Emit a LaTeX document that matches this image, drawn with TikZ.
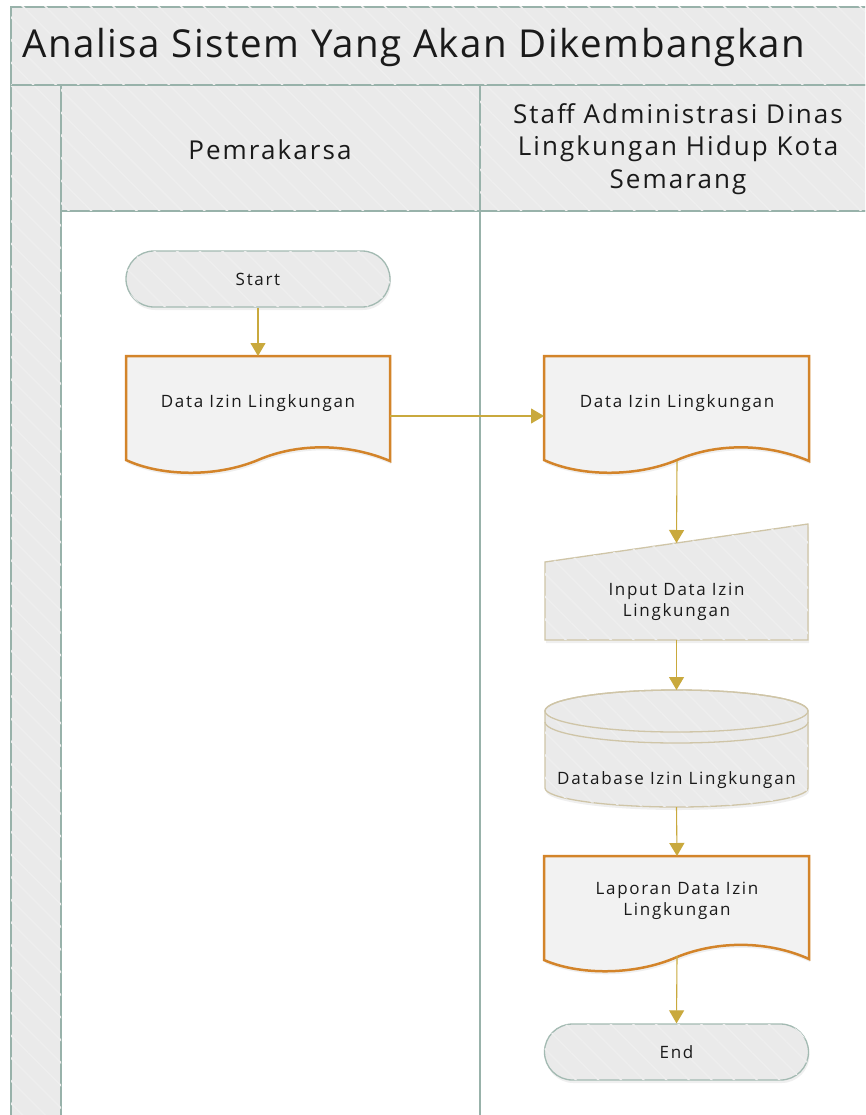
\documentclass[tikz,border=0pt]{standalone}
\usepackage{fontspec}
\setmainfont{Open Sans}
\usetikzlibrary{arrows.meta,patterns.meta,shadows}

\definecolor{frameline}{HTML}{98B2AA}
\definecolor{bandfill}{HTML}{EAEAEA}
\definecolor{bandstripe}{HTML}{EEEEEE}
\definecolor{docline}{HTML}{D3842A}
\definecolor{docfill}{HTML}{F2F2F2}
\definecolor{ioline}{HTML}{CFC5A7}
\definecolor{flowline}{HTML}{C9A93D}
\definecolor{termline}{HTML}{A3BAB2}
\definecolor{ink}{HTML}{1A1A1A}

\newcommand{\shapefont}{\fontsize{17}{21}\selectfont\addfontfeature{LetterSpace=10}}

\tikzset{
  band/.style={draw=frameline, line width=1.6pt, fill=bandfill,
    postaction={pattern={Lines[angle=-45,distance=16pt,line width=1.6pt]}, pattern color=bandstripe}},
  lanebody/.style={draw=frameline, line width=1.6pt, fill=white},
  hatched/.style={fill=bandfill,
    postaction={pattern={Lines[angle=-45,distance=16pt,line width=1.6pt]}, pattern color=bandstripe}},
  softshadow/.style={drop shadow={opacity=0.12, shadow xshift=1pt, shadow yshift=-3pt}},
  docshape/.style={draw=docline, line width=2.5pt, fill=docfill, line join=miter, softshadow},
  ioshape/.style={draw=ioline, line width=1.3pt, hatched, softshadow},
  terminal/.style={draw=termline, line width=1.3pt, hatched, rounded corners=28pt,
    minimum width=264pt, minimum height=56pt, inner sep=0pt, softshadow,
    font=\shapefont, text=ink},
  label/.style={inner sep=0pt, align=center, text=ink, font=\shapefont},
  flow/.style={draw=flowline, line width=1.1pt, -{Triangle[width=15pt,length=13pt]}},
}

\begin{document}
\begin{tikzpicture}[x=1pt,y=-1pt]
\useasboundingbox (0,0) rectangle (865,1115);
\clip (0,0) rectangle (865,1115);

% pool frame: title band, side strip, lane headers and lane bodies
\draw[lanebody] (61,211) rectangle (480,1140);
\draw[lanebody] (480,211) rectangle (890,1140);
\draw[band] (11,85) rectangle (61,1140);
\draw[band] (61,85) rectangle (480,211);
\draw[band] (480,85) rectangle (890,211);
\draw[band] (11,7) rectangle (890,85);

\node[anchor=base west, inner sep=0pt, text=ink,
  font=\fontsize{38.5}{44}\selectfont\addfontfeature{LetterSpace=4}]
  (title) at (22,58) {Analisa Sistem Yang Akan Dikembangkan};
\node[inner sep=0pt, text=ink, font=\fontsize{26}{32}\selectfont\addfontfeature{LetterSpace=8}]
  (lane1) at (270,150) {Pemrakarsa};
\node[inner sep=0pt, align=center, text=ink,
  font=\fontsize{26}{32.5}\selectfont\addfontfeature{LetterSpace=8}]
  (lane2) at (678,149) {Staff Administrasi Dinas\\Lingkungan Hidup Kota\\Semarang};

% terminals
\node[terminal] (start) at (258,279) {Start};
\node[terminal] (end) at (676.5,1052) {End};

% documents
\begin{scope}[shift={(126,356)}]
  \draw[docshape] (0,0) -- (264,0) -- (264,105)
    .. controls (224,88) and (174,86) .. (132,104)
    .. controls (89,122) and (34,120) .. (0,104) -- cycle;
  \node[label] (doc1) at (132,47) {Data Izin Lingkungan};
  \coordinate (doc1top) at (132,0);
  \coordinate (doc1right) at (264,60);
\end{scope}

\begin{scope}[shift={(544,356)}]
  \draw[docshape] (0,0) -- (265,0) -- (265,105)
    .. controls (225,88) and (175,86) .. (133,104)
    .. controls (90,122) and (34,120) .. (0,104) -- cycle;
  \node[label] (doc2) at (133,47) {Data Izin Lingkungan};
  \coordinate (doc2left) at (0,60);
  \coordinate (doc2bottom) at (133,105);
\end{scope}

\begin{scope}[shift={(544,856)}]
  \draw[docshape] (0,0) -- (265,0) -- (265,103)
    .. controls (225,85) and (175,84) .. (133,101)
    .. controls (90,120) and (34,119) .. (0,104) -- cycle;
  \node[label] (doc3) at (133,45) {Laporan Data Izin\\Lingkungan};
  \coordinate (doc3top) at (133,0);
  \coordinate (doc3bottom) at (133,100);
\end{scope}

% manual input
\draw[ioshape] (545,562) -- (808,524) -- (808,640) -- (545,640) -- cycle;
\node[label] (input) at (676.5,602) {Input Data Izin\\Lingkungan};
\coordinate (inputtop) at (676.5,543);
\coordinate (inputbottom) at (676.5,640);

% database cylinder
\draw[ioshape] (545,711) -- (545,788) arc(180:0:131.5 and 19)
  -- (808,711) arc(0:-180:131.5 and 21) -- cycle;
\draw[draw=ioline, line width=1.3pt] (676.5,711) ellipse (131.5 and 21);
\draw[draw=ioline, line width=1.3pt] (545,722) arc(180:0:131.5 and 21);
\node[label] (db) at (676.5,780) {Database Izin Lingkungan};
\coordinate (dbtop) at (676.5,690);
\coordinate (dbbottom) at (676.5,807);

% flow connectors
\draw[flow] (start.south) -- (doc1top);
\draw[flow] (doc1right) -- (doc2left);
\draw[flow] (doc2bottom) -- (inputtop);
\draw[flow] (inputbottom) -- (dbtop);
\draw[flow] (dbbottom) -- (doc3top);
\draw[flow] (doc3bottom) -- (end.north);
\end{tikzpicture}
\end{document}
